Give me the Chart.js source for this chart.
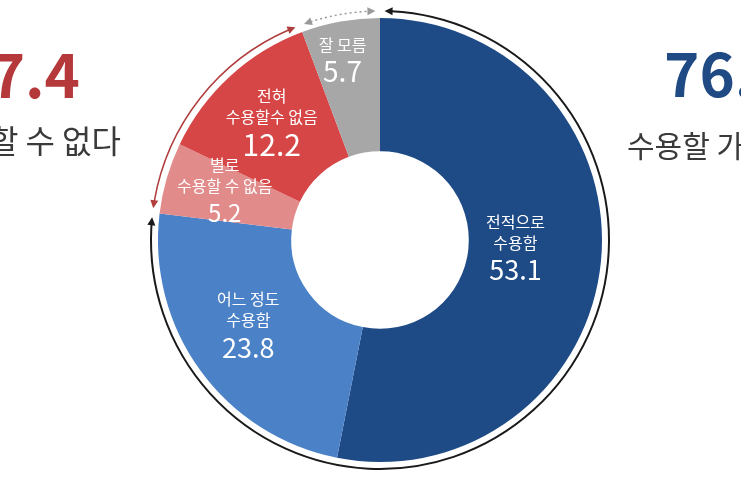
<!DOCTYPE html>
<html lang="ko">
<head>
<meta charset="utf-8">
<title>수용 여부</title>
<script src="https://cdn.jsdelivr.net/npm/chart.js@4"></script>
<style>
    html, body { margin: 0; padding: 0; background: #ffffff; }
    #wrap { width: 741px; height: 486px; overflow: hidden; }
</style>
</head>
<body>
<div id="wrap"><canvas id="chartAceptacion" width="741" height="486"></canvas></div>
<script>
const categorias = ['전적으로 수용함', '어느 정도 수용함', '별로 수용할 수 없음', '전혀 수용할수 없음', '잘 모름'];
const etiquetas = [['전적으로', '수용함'], ['어느 정도', '수용함'], ['별로', '수용할 수 없음'], ['전혀', '수용할수 없음'], ['잘 모름']];
const valores = [53.1, 23.8, 5.2, 12.2, 5.7];
const colores = ['#1e4a86', '#4b81c6', '#e28b8b', '#d64646', '#a7a7a7'];

// groups shown with the outer arcs: [first slice, last slice]
const grupoSi = [0, 1];
const grupoNo = [2, 3];
const grupoNs = [4, 4];

const FONT = '"Noto Sans CJK KR", "Noto Sans", sans-serif';

function sumaGrupo(g) {
    let s = 0;
    for (let i = g[0]; i <= g[1]; i++) s += valores[i];
    return s.toFixed(1);
}

// how far out in the ring each label block sits (0 = hole, 1 = outer edge)
const radioEtiqueta = [0.4, 0.5, 0.5, 0.47, 0.66];
const tamNumero = [27, 27, 24, 30, 28];

const pluginEtiquetas = {
    id: 'etiquetas',
    afterDatasetsDraw(chart) {
        const ctx = chart.ctx;
        const arcs = chart.getDatasetMeta(0).data;
        ctx.save();
        ctx.fillStyle = '#ffffff';
        ctx.textAlign = 'center';
        ctx.textBaseline = 'middle';
        arcs.forEach((arc, i) => {
            const mid = (arc.startAngle + arc.endAngle) / 2;
            const r = arc.innerRadius + (arc.outerRadius - arc.innerRadius) * radioEtiqueta[i];
            const px = arc.x + r * Math.cos(mid) - 6;
            const py = arc.y + r * Math.sin(mid) - 6;
            const lineas = etiquetas[i];
            const alto = lineas.length * 21 + 30;
            let y = py - alto / 2;
            ctx.font = '400 16px ' + FONT;
            lineas.forEach(l => {
                ctx.fillText(l, px, y + 10);
                y += 21;
            });
            ctx.font = '400 ' + tamNumero[i] + 'px ' + FONT;
            ctx.fillText(valores[i].toFixed(1), px, y + 16);
        });
        ctx.restore();
    }
};

function flecha(ctx, x, y, dx, dy, color) {
    const largo = 8, ancho = 4;
    const bx = x - dx * largo, by = y - dy * largo;
    ctx.fillStyle = color;
    ctx.beginPath();
    ctx.moveTo(x, y);
    ctx.lineTo(bx - dy * ancho, by + dx * ancho);
    ctx.lineTo(bx + dy * ancho, by - dx * ancho);
    ctx.closePath();
    ctx.fill();
}

function arcoGrupo(chart, g, color, ancho, punteado) {
    const ctx = chart.ctx;
    const arcs = chart.getDatasetMeta(0).data;
    const a = arcs[g[0]], b = arcs[g[1]];
    const cx = a.x, cy = a.y;
    const r = a.outerRadius + 7;
    const hueco = 0.02;
    const a0 = a.startAngle + hueco;
    const a1 = b.endAngle - hueco;
    ctx.save();
    ctx.strokeStyle = color;
    ctx.lineWidth = ancho;
    if (punteado) ctx.setLineDash([2, 3]);
    ctx.beginPath();
    ctx.arc(cx, cy, r, a0 + 0.03, a1 - 0.03);
    ctx.stroke();
    ctx.setLineDash([]);
    flecha(ctx, cx + r * Math.cos(a0), cy + r * Math.sin(a0), Math.sin(a0), -Math.cos(a0), color);
    flecha(ctx, cx + r * Math.cos(a1), cy + r * Math.sin(a1), -Math.sin(a1), Math.cos(a1), color);
    ctx.restore();
}

const pluginArcos = {
    id: 'arcos',
    afterDatasetsDraw(chart) {
        arcoGrupo(chart, grupoSi, '#1a1a1a', 2, false);
        arcoGrupo(chart, grupoNo, '#b03c3c', 1.5, false);
        arcoGrupo(chart, grupoNs, '#9a9a9a', 1.5, true);

        // side totals
        const ctx = chart.ctx;
        ctx.save();
        ctx.textBaseline = 'alphabetic';
        ctx.textAlign = 'right';
        ctx.fillStyle = '#b5393b';
        ctx.font = '700 60px ' + FONT;
        ctx.fillText(sumaGrupo(grupoNo), 80, 98);
        ctx.fillStyle = '#3a3a3a';
        ctx.font = '400 32px ' + FONT;
        ctx.fillText('수용할 수 없다', 121, 153);

        ctx.textAlign = 'left';
        ctx.fillStyle = '#1f4a84';
        ctx.font = '700 60px ' + FONT;
        ctx.fillText(sumaGrupo(grupoSi), 664, 97);
        ctx.fillStyle = '#3a3a3a';
        ctx.font = '400 30px ' + FONT;
        ctx.fillText('수용할 가치 있다', 627, 157);
        ctx.restore();
    }
};

new Chart(document.getElementById('chartAceptacion'), {
    type: 'doughnut',
    data: {
        labels: categorias,
        datasets: [{
            data: valores,
            backgroundColor: colores,
            borderWidth: 0
        }]
    },
    options: {
        responsive: false,
        animation: false,
        cutout: '40%',
        layout: {
            padding: { left: 100, right: 81, top: 18, bottom: 24 }
        },
        plugins: {
            legend: { display: false },
            tooltip: { enabled: false }
        }
    },
    plugins: [pluginEtiquetas, pluginArcos]
});
</script>
</body>
</html>
